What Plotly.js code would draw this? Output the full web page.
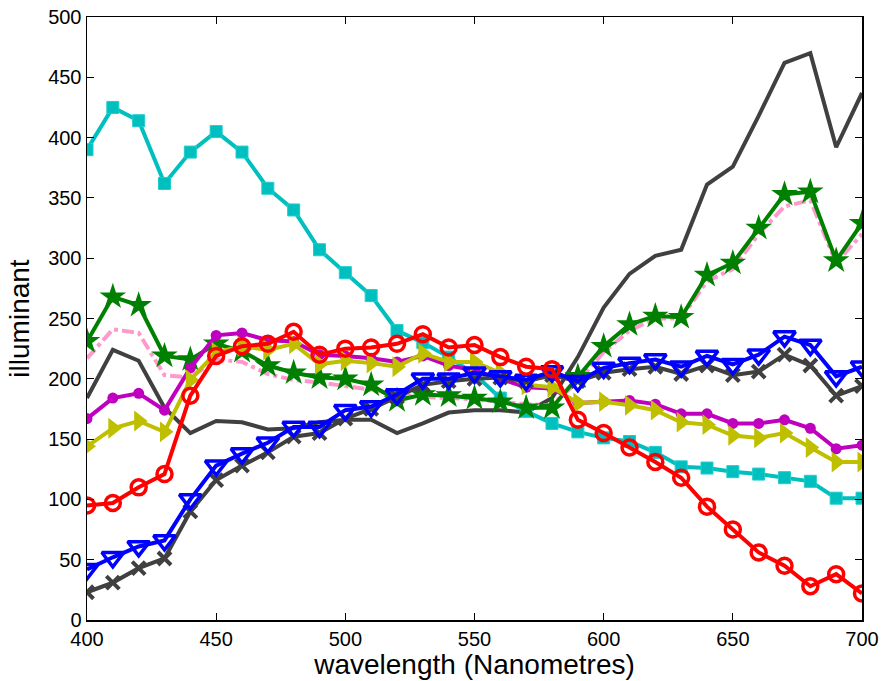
<!DOCTYPE html>
<html>
<head>
<meta charset="utf-8">
<script src="https://cdn.plot.ly/plotly-3.0.1.min.js"></script>
<style>html,body{margin:0;padding:0;background:#fff}#chart{width:882px;height:681px}</style>
</head>
<body>
<div id="chart"></div>
<script>
const wavelength = [400,410,420,430,440,450,460,470,480,490,500,510,520,530,540,550,560,570,580,590,600,610,620,630,640,650,660,670,680,690,700];

const grayLine = [184,224,215,176,155,165,164,158,159,164,166,166,155,163,172,174,174,172,184,218,259,287,302,307,361,376,418,462,470,392,437];
const cyanSq   = [390,425,414,362,388,405,388,358,340,307,288,269,240,230,218,204,184,173,163,156,151,148,139,127,126,123,121,118,115,101,101];
const pinkDash = [217,241,238,203,201,216,214,204,199,197,194,191,187,185,184,183,181,179,178,198,222,240,250,250,281,291,320,343,348,296,320];
const greenStar= [231,268,261,219,216,229,223,211,205,201,200,195,182,187,186,184,181,176,176,202,227,245,252,251,286,296,325,353,355,298,329];
const magentaCi= [167,184,188,174,209,236,238,232,231,220,219,217,214,219,211,207,200,193,192,180,181,182,179,171,171,163,163,166,159,142,145];
const yellowTri= [144,159,165,156,199,222,227,224,229,212,215,213,210,221,214,214,205,195,193,180,181,178,174,164,162,153,151,155,143,131,131];
const grayX    = [23,31,43,51,90,116,128,139,152,155,167,175,185,195,198,200,201,198,203,198,205,208,210,204,211,203,206,220,211,186,194];
const blueTri  = [42,52,61,66,100,128,138,147,160,160,174,177,187,200,200,205,202,199,206,198,209,213,216,210,219,212,220,235,228,202,210];
const redCi    = [95,97,110,121,186,219,227,229,239,220,225,226,229,237,226,228,218,210,208,166,155,143,131,118,94,75,56,45,28,38,22];

const traces = [
  {y: grayLine, line:{color:'#404040', width:4}, mode:'lines'},
  {y: cyanSq, line:{color:'#00BFBF', width:4}, mode:'lines+markers',
   marker:{symbol:'square', size:12, color:'#00BFBF', line:{color:'#22CCCC', width:1}}},
  {y: pinkDash, line:{color:'#FF99CC', width:4, dash:'dashdot'}, mode:'lines'},
  {y: greenStar, line:{color:'#008000', width:4}, mode:'lines+markers',
   marker:{symbol:'star', size:20, color:'#008000', line:{width:0}}},
  {y: magentaCi, line:{color:'#BF00BF', width:4}, mode:'lines+markers',
   marker:{symbol:'circle', size:11, color:'#BF00BF', line:{width:0}}},
  {y: yellowTri, line:{color:'#BFBF00', width:4}, mode:'lines+markers',
   marker:{symbol:'triangle-right', size:18, color:'#BFBF00', line:{width:0}}},
  {y: grayX, line:{color:'#404040', width:4}, mode:'lines+markers',
   marker:{symbol:'x-thin', size:13, color:'#404040', line:{color:'#404040', width:4}}},
  {y: blueTri, line:{color:'#0000FF', width:4}, mode:'lines+markers',
   marker:{symbol:'triangle-down-open', size:19, color:'#0000FF', line:{color:'#0000FF', width:3.5}}},
  {y: redCi, line:{color:'#FF0000', width:4}, mode:'lines+markers',
   marker:{symbol:'circle-open', size:15, color:'#FF0000', line:{color:'#FF0000', width:3.5}}}
].map(t => Object.assign({x: wavelength, type:'scatter', showlegend:false, hoverinfo:'skip'}, t));

const axisCommon = {
  showgrid:false, zeroline:false, showline:true, mirror:'ticks',
  linecolor:'#000', linewidth:1.5, ticks:'inside', ticklen:7, tickwidth:1, tickcolor:'#000',
  tickfont:{family:'Liberation Sans, Arial, sans-serif', size:20, color:'#000'}
};

const layout = {
  width:882, height:681,
  margin:{l:87, r:20, t:17, b:61},
  paper_bgcolor:'#fff', plot_bgcolor:'#fff',
  xaxis: Object.assign({}, axisCommon, {
    range:[400,700], tickvals:[400,450,500,550,600,650,700],
    title:{text:'wavelength (Nanometres)', standoff:0, font:{family:'Liberation Sans, Arial, sans-serif', size:28, color:'#000'}}
  }),
  yaxis: Object.assign({}, axisCommon, {
    range:[0,500], tickvals:[0,50,100,150,200,250,300,350,400,450,500],
    title:{text:'illuminant', standoff:10, font:{family:'Liberation Sans, Arial, sans-serif', size:28, color:'#000'}}
  })
};

Plotly.newPlot('chart', traces, layout, {displayModeBar:false, staticPlot:true});
</script>
</body>
</html>
